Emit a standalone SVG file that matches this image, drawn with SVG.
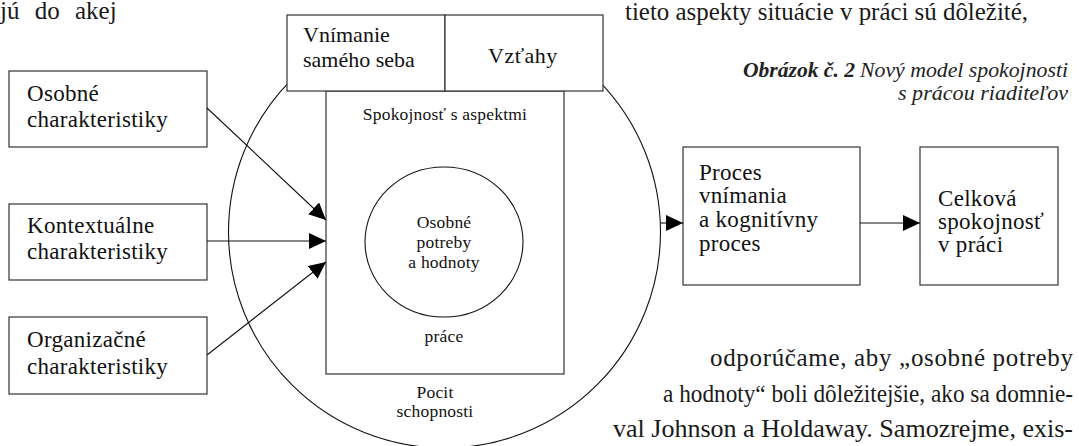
<svg xmlns="http://www.w3.org/2000/svg" width="1079" height="446" viewBox="0 0 1079 446">
<style>
.box{fill:#fff;stroke:#333;stroke-width:1.2}
.ln{fill:none;stroke:#111;stroke-width:1.1}
text{font-family:'Liberation Serif','DejaVu Serif',serif;fill:#111}
.b{font-size:23px;letter-spacing:0.3px}
.s{font-size:17.5px;letter-spacing:0.2px;text-anchor:middle}
.body{font-size:25px;fill:#1a1a1a}
.cap{font-size:21px;font-style:italic;fill:#222}
</style>
<defs>
<marker id="ah" viewBox="0 0 17 16" refX="17" refY="8" markerWidth="17" markerHeight="16" markerUnits="userSpaceOnUse" orient="auto">
<path d="M0,0 L17,8 L0,16 Z" fill="#000"/>
</marker>
</defs>
<rect width="1079" height="446" fill="#fff"/>
<g font-family="Liberation Serif, DejaVu Serif, serif">
<text class="body" x="0" y="19" word-spacing="9">jú do akej</text>
<text class="body" x="625" y="20" textLength="403" lengthAdjust="spacingAndGlyphs">tieto aspekty situácie v práci sú dôležité,</text>
<text class="cap" x="743" y="77"><tspan font-weight="bold" textLength="112" lengthAdjust="spacingAndGlyphs">Obrázok č. 2</tspan><tspan x="860" textLength="208" lengthAdjust="spacingAndGlyphs">Nový model spokojnosti</tspan></text>
<text class="cap" x="898" y="100" textLength="170" lengthAdjust="spacingAndGlyphs">s prácou riaditeľov</text>
<text class="body" x="710" y="366" textLength="363" lengthAdjust="spacing">odporúčame, aby „osobné potreby</text>
<text class="body" x="663" y="402" textLength="410" lengthAdjust="spacingAndGlyphs">a hodnoty“ boli dôležitejšie, ako sa domnie-</text>
<text class="body" x="613" y="437" textLength="460" lengthAdjust="spacingAndGlyphs">val Johnson a Holdaway. Samozrejme, exis-</text>

<g id="big-circle"><circle class="ln" cx="444.5" cy="232" r="216"/></g>
<g id="inner-rect">
<rect x="326" y="91" width="238" height="283" fill="none" stroke="#333" stroke-width="1.2"/>
<text class="s" x="445" y="120">Spokojnosť s aspektmi</text>
<text class="s" x="444" y="342">práce</text>
</g>
<g id="pocit">
<text class="s" x="435" y="398">Pocit</text>
<text class="s" x="435" y="417">schopnosti</text>
</g>
<g id="needs">
<ellipse cx="444" cy="242" rx="79" ry="75" class="ln"/>
<text class="s" x="444" y="228">Osobné</text>
<text class="s" x="444" y="248">potreby</text>
<text class="s" x="444" y="268">a hodnoty</text>
</g>
<g id="self">
<rect class="box" x="287" y="15" width="158" height="76"/>
<text font-size="22" x="303" y="42">Vnímanie</text>
<text font-size="22" x="303" y="67">samého seba</text>
</g>
<g id="vztahy">
<rect class="box" x="445" y="15" width="158" height="76"/>
<text font-size="22" x="488" y="63" letter-spacing="0.5">Vzťahy</text>
</g>
<g id="osobne">
<rect class="box" x="9" y="71" width="198" height="76"/>
<text class="b" x="27" y="101">Osobné</text>
<text class="b" x="27" y="127">charakteristiky</text>
</g>
<g id="kontext">
<rect class="box" x="9" y="204" width="198" height="76"/>
<text class="b" x="27" y="233">Kontextuálne</text>
<text class="b" x="27" y="259">charakteristiky</text>
</g>
<g id="organiz">
<rect class="box" x="9" y="317" width="198" height="77"/>
<text class="b" x="27" y="347">Organizačné</text>
<text class="b" x="27" y="374">charakteristiky</text>
</g>
<g id="proces">
<rect class="box" x="683" y="147" width="177" height="138"/>
<text class="b" x="699" y="180">Proces</text>
<text class="b" x="699" y="203">vnímania</text>
<text class="b" x="699" y="227">a kognitívny</text>
<text class="b" x="699" y="251">proces</text>
</g>
<g id="celkova">
<rect class="box" x="920" y="147" width="138" height="138"/>
<text class="b" x="938" y="206">Celková</text>
<text class="b" x="938" y="229">spokojnosť</text>
<text class="b" x="938" y="252">v práci</text>
</g>
</g>
<g id="connectors">
<line class="ln" x1="207" y1="108" x2="326" y2="220" marker-end="url(#ah)"/>
<line class="ln" x1="207" y1="241" x2="326" y2="241" marker-end="url(#ah)"/>
<line class="ln" x1="207" y1="355" x2="326" y2="262" marker-end="url(#ah)"/>
<line class="ln" x1="661" y1="223" x2="683" y2="223" marker-end="url(#ah)"/>
<line class="ln" x1="860" y1="223" x2="920" y2="223" marker-end="url(#ah)"/>
</g>
</svg>
